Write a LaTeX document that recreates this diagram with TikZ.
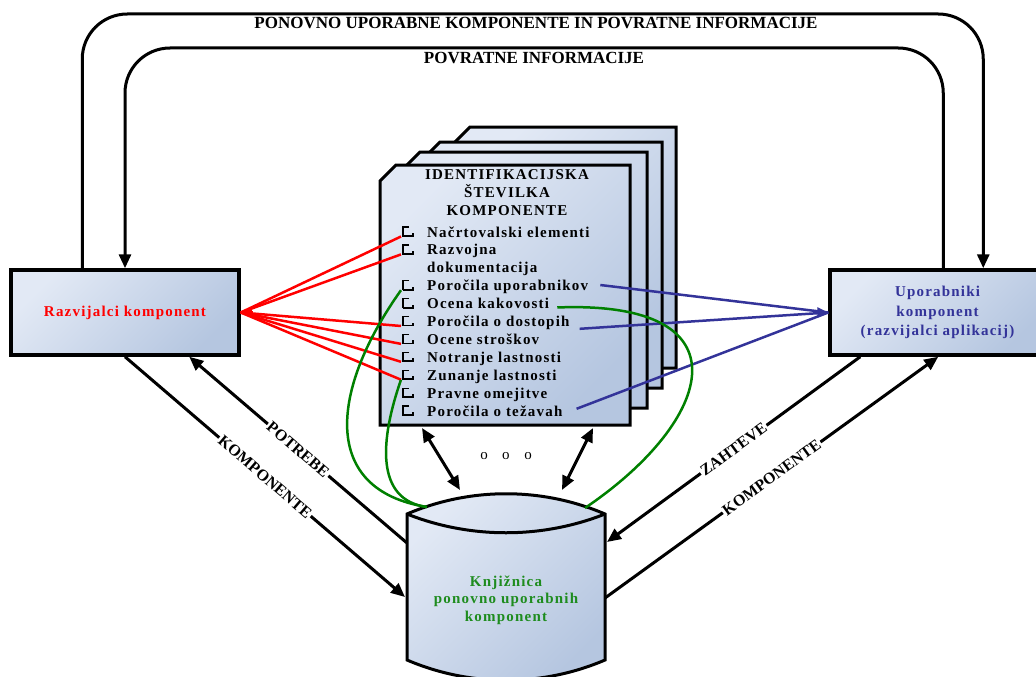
\documentclass[tikz,border=0pt]{standalone}
\usepackage{fontspec}
\setmainfont{Liberation Serif}
\newfontfamily\spacedserif{Liberation Serif}[LetterSpace=8]
\usetikzlibrary{arrows.meta,calc}
\definecolor{paleblue}{HTML}{E2E9F5}
\definecolor{deepblue}{HTML}{B5C6E0}
\definecolor{userblue}{HTML}{333399}
\definecolor{libgreen}{HTML}{008000}
\definecolor{libtext}{HTML}{1E8C1E}
\newcommand\diagfont{\spacedserif\bfseries\fontsize{15}{17}\selectfont}
\newcommand\loopfont{\rmfamily\bfseries\fontsize{17}{20}\selectfont}
\newcommand\tagfont{\rmfamily\bfseries\fontsize{16}{18}\selectfont}
\tikzset{
  gradfill/.style={top color=paleblue,bottom color=deepblue,shading angle=45},
  panel/.style={rectangle,draw=black,line width=3.5,gradfill,inner sep=2,align=center},
  sheet/.style={draw=black,line width=3,gradfill,line join=miter},
  flow/.style={draw=black,line width=3,-{Triangle[length=14pt,width=12pt]}},
  twoway/.style={draw=black,line width=3,{Triangle[length=14pt,width=12pt]}-{Triangle[length=14pt,width=12pt]}},
  loopline/.style={draw=black,line width=3,rounded corners=45,-{Triangle[length=14pt,width=12pt]}},
  tag/.style={fill=white,inner sep=1.5,sloped,font=\tagfont},
  redlink/.style={draw=red,line width=2.5},
  bluelink/.style={draw=userblue,line width=2.5},
  greenlink/.style={draw=libgreen,line width=2.5},
  itemtext/.style={anchor=base west,inner sep=0},
  tick/.style={line width=1.2},
}
\begin{document}
\begin{tikzpicture}[x=1pt,y=-1pt,every node/.style={font=\diagfont}]
\useasboundingbox (0,0) rectangle (1036,677);
\clip (0,0) rectangle (1036,677);

% developer and user boxes
\node[panel,minimum width=228,minimum height=85,text=red] (dev) at (125,312.5) {Razvijalci komponent};
\node[panel,minimum width=215,minimum height=85,text=userblue,font=\spacedserif\bfseries\fontsize{15}{19.5}\selectfont] (usr) at (937.5,312.5) {Uporabniki\\komponent\\(razvijalci aplikacij)};

% feedback loops over the top
\draw[loopline] ([xshift=73]dev.north west) |- (535,14) -| ([xshift=155]usr.north west);
\draw[loopline] ([xshift=115]usr.north west) |- (535,48) -| (dev.north);
\node[font=\loopfont,inner sep=0] (outerlbl) at (536,23) {PONOVNO UPORABNE KOMPONENTE IN POVRATNE INFORMACIJE};
\node[font=\loopfont,inner sep=0] (innerlbl) at (534,58) {POVRATNE INFORMACIJE};

% stack of component sheets (back to front)
\foreach \L/\T/\R/\B in {454/127/676/368, 424/142/662/388, 404/152/647/408, 380/165/630/425}
  \path[sheet] (\L,\T+16) -- (\L+16,\T) -- (\R,\T) -- (\R,\B) -- (\L,\B) -- cycle;

\node[align=center,inner sep=0,font=\spacedserif\bfseries\fontsize{15}{18}\selectfont] (idtitle) at (507,193) {IDENTIFIKACIJSKA\\ŠTEVILKA\\KOMPONENTE};

\foreach \k/\txt in {1/Načrtovalski elementi,2/Razvojna,3/dokumentacija,4/Poročila uporabnikov,5/Ocena kakovosti,6/Poročila o dostopih,7/Ocene stroškov,8/Notranje lastnosti,9/Zunanje lastnosti,10/Pravne omejitve,11/Poročila o težavah}
  \node[itemtext] (i\k) at (427,{237+17.9*(\k-1)}) {\txt};

\foreach \k in {1,2,4,5,6,7,8,9,10,11}{
  \pgfmathsetmacro\yc{232+17.9*(\k-1)}
  \draw[tick] (409,\yc-5) -- (403,\yc-5) -- (403,\yc+4) -- (413,\yc+4) -- (413,\yc+1);
  \draw[line width=1.8] (403,\yc+4) -- (413.5,\yc+4);
  \coordinate (cb\k) at (401,\yc+4.5);
}

% library cylinder
\path[sheet] (407,514) -- (407,660) .. controls (470,687) and (542,687) .. (605,660) -- (605,514) .. controls (542,487) and (470,487) .. cycle;
\draw[line width=3] (407,514) .. controls (470,539) and (542,539) .. (605,514);
\node[align=center,text=libtext,inner sep=0,font=\spacedserif\bfseries\fontsize{15}{17.5}\selectfont] (lib) at (506,600) {Knjižnica\\ponovno uporabnih\\komponent};
\coordinate (libNW) at (427,507);
\coordinate (libNE) at (585,508);
\coordinate (libUpL) at (460,490);
\coordinate (libUpR) at (562,490);
\coordinate (libW1) at (407,543);
\coordinate (libW2) at (405,597);
\coordinate (libE1) at (607,542);
\coordinate (libE2) at (605,598);
\coordinate (sheetL) at (422,428);
\coordinate (sheetR) at (593,428);

% sheets <-> library
\draw[twoway] (sheetL) -- (libUpL);
\draw[twoway] (sheetR) -- (libUpR);
\node[font=\rmfamily\fontsize{15}{17}\selectfont,inner sep=0] (dots) at (506,456) {o\hspace{14.5pt}o\hspace{14.5pt}o};

% red links to the developers
\foreach \k in {1,2,6,7,8,9}
  \draw[redlink] (cb\k) -- (dev.east);
\draw[redlink,-{Triangle[length=11pt,width=10pt]}] ([xshift=12]dev.east) -- (dev.east);

% blue links to the users
\draw[bluelink] ([xshift=12,yshift=2]i4.east) -- (usr.west);
\draw[bluelink] ([xshift=10,yshift=-6]i6.east) -- (usr.west);
\draw[bluelink] ([xshift=14,yshift=2]i11.east) -- (usr.west);
\draw[bluelink,-{Triangle[length=11pt,width=10pt]}] ([xshift=-12]usr.west) -- (usr.west);

% green links to the library
\draw[greenlink] (cb4) .. controls (330,390) and (320,490) .. (libNW);
\draw[greenlink] (cb9) .. controls (380,440) and (375,500) .. (libNW);
\draw[greenlink] ([xshift=8,yshift=-4]i5.east) .. controls (750,300) and (715,420) .. (libNE);

% flows between the library and the two parties
\draw[flow] (libW1) -- node[tag] {POTREBE} ([xshift=180]dev.south west);
\draw[flow] (dev.south) -- node[tag] {KOMPONENTE} (libW2);
\draw[flow] ([xshift=32]usr.south west) -- node[tag] {ZAHTEVE} (libE1);
\draw[flow] (libE2) -- node[tag] {KOMPONENTE} ([xshift=110]usr.south west);
\end{tikzpicture}
\end{document}
